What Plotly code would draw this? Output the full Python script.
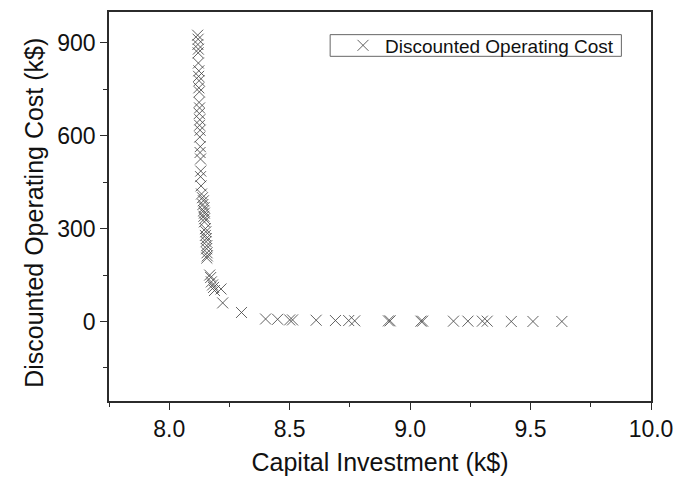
import plotly.graph_objects as go

# Pareto front: capital investment vs discounted operating cost (both in k$)
capital_investment = [
    8.118, 8.120, 8.119, 8.121, 8.120, 8.121, 8.123, 8.122, 8.124, 8.123,
    8.125, 8.124, 8.126, 8.125, 8.127, 8.126, 8.128, 8.127, 8.129, 8.128,
    8.130, 8.131, 8.130, 8.132, 8.134,
    8.138, 8.142, 8.140, 8.145, 8.143, 8.146, 8.144, 8.147, 8.146,
    8.150, 8.152, 8.150, 8.154, 8.153, 8.156, 8.155, 8.157, 8.158, 8.156,
    8.168, 8.172, 8.175, 8.180, 8.184, 8.188, 8.215, 8.222,
    8.300, 8.400, 8.450, 8.500, 8.512, 8.610, 8.690, 8.745, 8.770,
    8.910, 8.917, 9.045, 9.052, 9.180, 9.240, 9.300, 9.320,
    9.420, 9.510, 9.630,
]
discounted_operating_cost = [
    925, 912, 895, 880, 868, 835, 810, 792, 778, 755,
    742, 708, 690, 672, 652, 634, 618, 596, 565, 546,
    525, 486, 468, 438, 412,
    400, 390, 378, 368, 358, 350, 340, 332, 322,
    300, 290, 278, 268, 258, 245, 235, 222, 212, 205,
    150, 142, 128, 118, 110, 100, 105, 60,
    29, 8, 7, 5, 5, 4, 3, 3, 2,
    2, 2, 1, 1, 1, 1, 1, 1,
    0, 0, 0,
]

series_name = "Discounted Operating Cost"
x_title = "Capital Investment (k$)"
y_title = "Discounted Operating Cost (k$)"

FONT = "Liberation Sans, Arial, sans-serif"
AXIS_COLOR = "#2b2b2b"
TEXT_COLOR = "#111"

# Plot-area geometry in pixels (used to place the legend frame and y title)
W, H = 683, 482
L, R, T, B = 109, 25, 10, 77
PW, PH = W - L - R, H - T - B


def px_to_paper_x(px):
    return (px - L) / PW


def px_to_paper_y(py):
    return (H - B - py) / PH


fig = go.Figure()
fig.add_trace(go.Scatter(
    x=capital_investment,
    y=discounted_operating_cost,
    mode="markers",
    name=series_name,
    marker=dict(
        symbol="x-thin-open",
        size=11,
        color="rgba(70,70,70,0.85)",
        line=dict(width=1, color="rgba(70,70,70,0.85)"),
    ),
))

axis_common = dict(
    showline=True,
    linecolor=AXIS_COLOR,
    linewidth=1.5,
    mirror=True,
    showgrid=False,
    zeroline=False,
    ticks="outside",
    ticklen=7,
    tickwidth=1.2,
    tickcolor=AXIS_COLOR,
    tickfont=dict(family=FONT, size=23, color=TEXT_COLOR),
)

fig.update_xaxes(
    range=[7.75, 10.0],
    tick0=8.0, dtick=0.5,
    tickformat=".1f",
    minor=dict(dtick=0.25, tick0=7.75, ticks="outside", ticklen=4,
               tickcolor=AXIS_COLOR, tickwidth=1.2),
    title=dict(text=x_title, font=dict(family=FONT, size=25, color=TEXT_COLOR),
               standoff=12),
    **axis_common,
)
fig.update_yaxes(
    range=[-257, 1000],
    tick0=0, dtick=300,
    minor=dict(dtick=150, tick0=0, ticks="outside", ticklen=4,
               tickcolor=AXIS_COLOR, tickwidth=1.2),
    **axis_common,
)

# Y-axis title, set slightly below the plot-area centre
fig.add_annotation(
    text=y_title, textangle=-90, showarrow=False,
    xref="paper", yref="paper",
    x=px_to_paper_x(33), y=px_to_paper_y(214),
    xanchor="center", yanchor="middle",
    font=dict(family=FONT, size=25, color=TEXT_COLOR),
)

# Legend frame drawn as a thin rectangle behind a borderless legend
fig.add_shape(
    type="rect", xref="paper", yref="paper",
    x0=px_to_paper_x(333), x1=px_to_paper_x(628),
    y0=px_to_paper_y(55), y1=px_to_paper_y(33),
    line=dict(color="#666", width=1),
    fillcolor="white", layer="below",
)

fig.update_layout(
    width=W,
    height=H,
    margin=dict(l=L, r=R, t=T, b=B),
    paper_bgcolor="white",
    plot_bgcolor="white",
    showlegend=True,
    legend=dict(
        x=px_to_paper_x(344), y=px_to_paper_y(44),
        xanchor="left", yanchor="middle",
        borderwidth=0,
        bgcolor="rgba(0,0,0,0)",
        font=dict(family=FONT, size=19, color=TEXT_COLOR),
        itemwidth=34,
        tracegroupgap=0,
    ),
)

fig.write_html("out.html")
